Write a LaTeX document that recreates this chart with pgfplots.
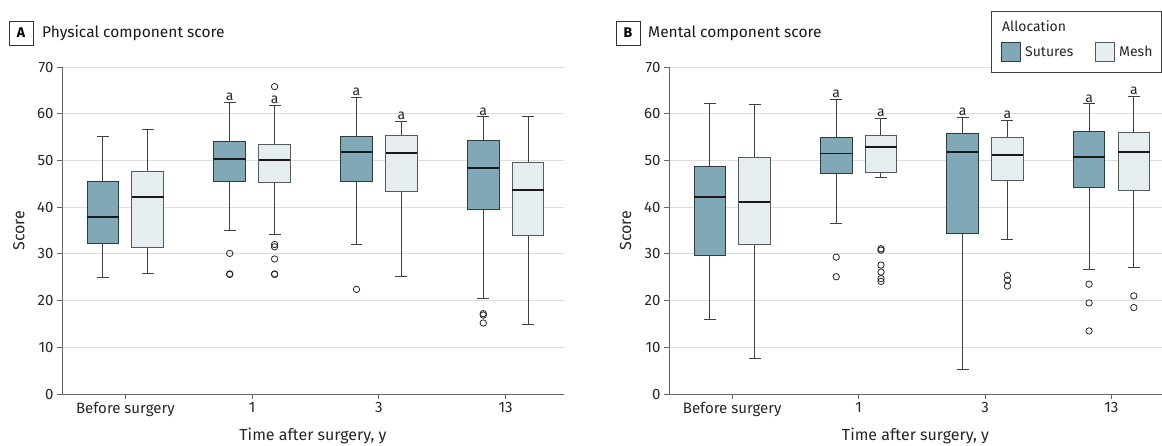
\documentclass[border=0pt]{standalone}
\usepackage{fontspec}
\setmainfont{Fira Sans}
\usepackage{pgfplots}
\pgfplotsset{compat=1.18}
\usepgfplotslibrary{statistics}
\definecolor{sut}{HTML}{80A8B6}
\definecolor{mes}{HTML}{E5EDF0}
\definecolor{sutedge}{HTML}{2E3B40}
\definecolor{mesedge}{HTML}{555A5C}
\definecolor{axisgray}{HTML}{666666}
\definecolor{gridgray}{HTML}{DDDDDD}
\tikzset{sig/.style={font=\fontsize{14}{14}\selectfont, anchor=south, inner sep=1.5pt, color=black!85}}
\pgfplotsset{
  myax/.style={
    scale only axis, height=327pt,
    ymin=0, ymax=70, ytick={0,10,...,70},
    xmin=-0.5, xtick={0,1,2,3}, xticklabels={Before surgery,1,3,13},
    axis x line*=bottom, axis y line*=left,
    ymajorgrids, grid style={color=gridgray, line width=0.9pt},
    axis line style={color=axisgray, line width=0.9pt},
    tick style={color=axisgray, line width=0.9pt},
    tick align=outside, major tick length=5pt,
    tick label style={font=\fontsize{15}{15}\selectfont, color=black!85},
    /pgf/number format/assume math mode=true,
    label style={font=\fontsize{16}{16}\selectfont, color=black!85},
    xlabel={Time after surgery, y}, ylabel={Score},
    xlabel style={at={(axis description cs:0.5,-0.127)}, anchor=center},
    clip=false,
  },
  sbox/.style={boxplot/draw direction=y, boxplot/box extend=0.25, boxplot/whisker extend=0.094,
    fill=sut, draw=sutedge, line width=1pt, solid,
    boxplot/every whisker/.style={draw=black!75, line width=1pt},
    boxplot/every median/.style={draw=black!90, line width=1.8pt},
    mark=o, mark size=3.2pt, mark options={draw=black!85, fill=white, line width=0.8pt}},
  mbox/.style={boxplot/draw direction=y, boxplot/box extend=0.25, boxplot/whisker extend=0.094,
    fill=mes, draw=mesedge, line width=1pt, solid,
    boxplot/every whisker/.style={draw=black!75, line width=1pt},
    boxplot/every median/.style={draw=black!90, line width=1.8pt},
    mark=o, mark size=3.2pt, mark options={draw=black!85, fill=white, line width=0.8pt}},
}
\begin{document}
\begin{tikzpicture}[x=1pt,y=1pt]
\useasboundingbox (0,0) rectangle (1162,445);
% ---------- Panel A ----------
\begin{axis}[myax, width=502pt, xmax=3.46, at={(62pt,51pt)}, anchor=south west,
  ylabel style={at={(axis description cs:-0.086,0.5)}, anchor=center}]
\addplot[sbox, boxplot prepared={draw position=-0.177, lower whisker=24.9, lower quartile=32.3, median=37.9, upper quartile=45.4, upper whisker=55.2}] coordinates {};
\addplot[mbox, boxplot prepared={draw position=0.177, lower whisker=25.8, lower quartile=31.3, median=42.1, upper quartile=47.6, upper whisker=56.6}] coordinates {};
\addplot[sbox, boxplot prepared={draw position=0.823, lower whisker=34.9, lower quartile=45.4, median=50.3, upper quartile=54.0, upper whisker=62.5}] coordinates {(0,30.1) (0,25.6) (0,25.7)};
\addplot[mbox, boxplot prepared={draw position=1.177, lower whisker=34.2, lower quartile=45.2, median=50.1, upper quartile=53.4, upper whisker=61.8}] coordinates {(0,65.8) (0,32.0) (0,31.5) (0,28.9) (0,25.6) (0,25.7)};
\addplot[sbox, boxplot prepared={draw position=1.823, lower whisker=31.9, lower quartile=45.4, median=51.8, upper quartile=55.1, upper whisker=63.5}] coordinates {(0,22.4)};
\addplot[mbox, boxplot prepared={draw position=2.177, lower whisker=25.1, lower quartile=43.3, median=51.6, upper quartile=55.4, upper whisker=58.3}] coordinates {};
\addplot[sbox, boxplot prepared={draw position=2.823, lower whisker=20.4, lower quartile=39.6, median=48.4, upper quartile=54.2, upper whisker=59.3}] coordinates {(0,17.2) (0,16.9) (0,15.2)};
\addplot[mbox, boxplot prepared={draw position=3.177, lower whisker=14.8, lower quartile=33.9, median=43.6, upper quartile=49.6, upper whisker=59.5}] coordinates {};
\node[sig] at (axis cs:0.823,62.5) {a};
\node[sig] at (axis cs:1.177,61.8) {a};
\node[sig] at (axis cs:1.823,63.5) {a};
\node[sig] at (axis cs:2.177,58.3) {a};
\node[sig] at (axis cs:2.823,59.3) {a};
\end{axis}
% ---------- Panel B ----------
\begin{axis}[myax, width=493pt, xmax=3.4, at={(669pt,51pt)}, anchor=south west,
  ylabel style={at={(axis description cs:-0.088,0.5)}, anchor=center}]
\addplot[sbox, boxplot prepared={draw position=-0.177, lower whisker=16.0, lower quartile=29.6, median=42.1, upper quartile=48.8, upper whisker=62.2}] coordinates {};
\addplot[mbox, boxplot prepared={draw position=0.177, lower whisker=7.6, lower quartile=32.0, median=41.1, upper quartile=50.7, upper whisker=61.9}] coordinates {};
\addplot[sbox, boxplot prepared={draw position=0.823, lower whisker=36.4, lower quartile=47.1, median=51.5, upper quartile=55.0, upper whisker=63.1}] coordinates {(0,29.3) (0,25.1)};
\addplot[mbox, boxplot prepared={draw position=1.177, lower whisker=46.3, lower quartile=47.4, median=52.8, upper quartile=55.4, upper whisker=58.9}] coordinates {(0,31.1) (0,30.8) (0,27.6) (0,26.1) (0,24.7) (0,24.1)};
\addplot[sbox, boxplot prepared={draw position=1.823, lower whisker=5.3, lower quartile=34.4, median=51.8, upper quartile=55.7, upper whisker=59.2}] coordinates {};
\addplot[mbox, boxplot prepared={draw position=2.177, lower whisker=33.1, lower quartile=45.6, median=51.1, upper quartile=55.0, upper whisker=58.5}] coordinates {(0,25.4) (0,24.4) (0,23.1)};
\addplot[sbox, boxplot prepared={draw position=2.823, lower whisker=26.6, lower quartile=44.2, median=50.7, upper quartile=56.2, upper whisker=62.1}] coordinates {(0,23.5) (0,19.5) (0,13.5)};
\addplot[mbox, boxplot prepared={draw position=3.177, lower whisker=27.1, lower quartile=43.6, median=51.8, upper quartile=56.0, upper whisker=63.7}] coordinates {(0,21.0) (0,18.5)};
\node[sig] at (axis cs:0.823,63.1) {a};
\node[sig] at (axis cs:1.177,58.9) {a};
\node[sig] at (axis cs:1.823,59.2) {a};
\node[sig] at (axis cs:2.177,58.5) {a};
\node[sig] at (axis cs:2.823,62.1) {a};
\node[sig] at (axis cs:3.177,63.7) {a};
\end{axis}
% ---------- Titles ----------
\draw[black!80, line width=0.9pt] (9,400) rectangle (33,424);
\node[font=\fontsize{14}{14}\selectfont\bfseries] at (21,412) {A};
\node[font=\fontsize{15.5}{15.5}\selectfont, anchor=west, inner sep=0pt, color=black!90] at (42,412) {Physical component score};
\draw[black!80, line width=0.9pt] (616,400) rectangle (640,424);
\node[font=\fontsize{14}{14}\selectfont\bfseries] at (628,412) {B};
\node[font=\fontsize{15.5}{15.5}\selectfont, anchor=west, inner sep=0pt, color=black!90] at (648,412) {Mental component score};
% ---------- Legend ----------
\draw[black!75, line width=0.9pt, fill=white] (991,373) rectangle (1161.5,434);
\node[font=\fontsize{14}{14}\selectfont, anchor=west, inner sep=0pt, color=black!85] at (1002,419) {Allocation};
\draw[sutedge, line width=0.9pt, fill=sut] (1001,384) rectangle (1020,403);
\node[font=\fontsize{14}{14}\selectfont, anchor=west, inner sep=0pt, color=black!85] at (1025,393.5) {Sutures};
\draw[mesedge, line width=0.9pt, fill=mes] (1095,384) rectangle (1114,403);
\node[font=\fontsize{14}{14}\selectfont, anchor=west, inner sep=0pt, color=black!85] at (1119,393.5) {Mesh};
\end{tikzpicture}
\end{document}
